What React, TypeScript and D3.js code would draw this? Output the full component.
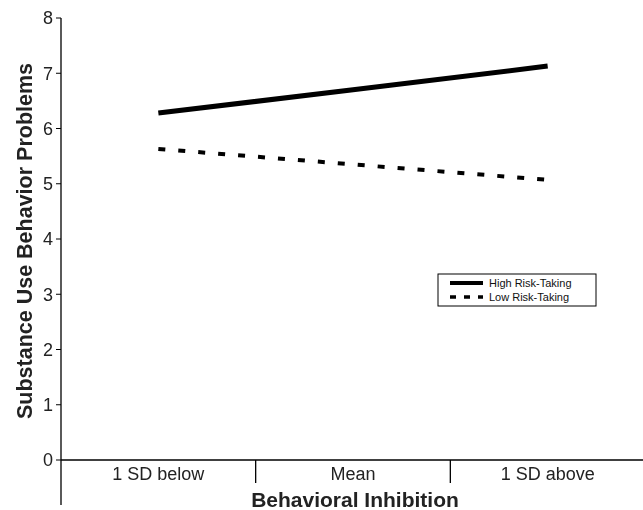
import { useEffect, useRef } from "react";
import * as d3 from "d3";

const categories = ["1 SD below", "Mean", "1 SD above"];
const highRisk = [6.28, 6.7, 7.13];
const lowRisk = [5.63, 5.35, 5.07];
const yTicks = [0, 1, 2, 3, 4, 5, 6, 7, 8];
const seriesNames = ["High Risk-Taking", "Low Risk-Taking"];

const App = () => {
  const ref = useRef(null);

  useEffect(() => {
    const svg = d3.select(ref.current).attr("width", 643).attr("height", 510);
    svg.selectAll("*").remove();

    const font = "Arial, 'Liberation Sans', sans-serif";
    const x = d3.scaleBand().domain(categories).range([61, 645]);
    const y = d3.scaleLinear().domain([0, 8]).range([460, 18]);

    // y axis
    svg
      .append("line")
      .attr("x1", 61)
      .attr("x2", 61)
      .attr("y1", y(8))
      .attr("y2", 505)
      .attr("stroke", "#000")
      .attr("stroke-width", 1.3);
    yTicks.forEach((t) => {
      svg
        .append("line")
        .attr("x1", 56)
        .attr("x2", 61)
        .attr("y1", y(t))
        .attr("y2", y(t))
        .attr("stroke", "#000");
      svg
        .append("text")
        .attr("x", 53)
        .attr("y", y(t))
        .attr("dy", "0.35em")
        .attr("text-anchor", "end")
        .style("font-family", font)
        .style("font-size", "18px")
        .attr("fill", "#222")
        .text(t);
    });

    // x axis
    svg
      .append("line")
      .attr("x1", 61)
      .attr("x2", 645)
      .attr("y1", y(0))
      .attr("y2", y(0))
      .attr("stroke", "#000")
      .attr("stroke-width", 1.3);
    categories.slice(1).forEach((c) => {
      svg
        .append("line")
        .attr("x1", x(c))
        .attr("x2", x(c))
        .attr("y1", y(0))
        .attr("y2", 483)
        .attr("stroke", "#000")
        .attr("stroke-width", 1.3);
    });
    categories.forEach((c) => {
      svg
        .append("text")
        .attr("x", x(c) + x.bandwidth() / 2)
        .attr("y", 480)
        .attr("text-anchor", "middle")
        .style("font-family", font)
        .style("font-size", "18px")
        .attr("fill", "#222")
        .text(c);
    });

    // titles
    svg
      .append("text")
      .attr("x", 355)
      .attr("y", 507)
      .attr("text-anchor", "middle")
      .style("font-family", font)
      .style("font-size", "21px")
      .style("font-weight", "bold")
      .attr("fill", "#222")
      .text("Behavioral Inhibition");
    svg
      .append("text")
      .attr("transform", "translate(32, 241) rotate(-90)")
      .attr("text-anchor", "middle")
      .style("font-family", font)
      .style("font-size", "21.5px")
      .style("font-weight", "bold")
      .attr("fill", "#222")
      .text("Substance Use Behavior Problems");

    // lines
    const cx = (i) => x(categories[i]) + x.bandwidth() / 2;
    const line = d3
      .line()
      .x((d, i) => cx(i))
      .y((d) => y(d));

    svg
      .append("path")
      .attr("d", line(highRisk))
      .attr("fill", "none")
      .attr("stroke", "#000")
      .attr("stroke-width", 5);
    svg
      .append("path")
      .attr("d", line(lowRisk))
      .attr("fill", "none")
      .attr("stroke", "#000")
      .attr("stroke-width", 4)
      .attr("stroke-dasharray", "7,13");

    // legend
    const legend = svg.append("g").attr("transform", "translate(438, 274)");
    legend
      .append("rect")
      .attr("width", 158)
      .attr("height", 32)
      .attr("fill", "#fff")
      .attr("stroke", "#000")
      .attr("stroke-width", 1);
    seriesNames.forEach((name, i) => {
      legend
        .append("line")
        .attr("x1", 12)
        .attr("x2", 45)
        .attr("y1", 9 + i * 14)
        .attr("y2", 9 + i * 14)
        .attr("stroke", "#000")
        .attr("stroke-width", i === 0 ? 4 : 3.5)
        .attr("stroke-dasharray", i === 0 ? null : "6,8");
      legend
        .append("text")
        .attr("x", 51)
        .attr("y", 9 + i * 14)
        .attr("dy", "0.35em")
        .style("font-family", font)
        .style("font-size", "11px")
        .attr("fill", "#111")
        .text(name);
    });
  }, []);

  return (
    <div>
      <svg
        ref={ref}
        style={{ position: "fixed", top: 0, left: 0, display: "block" }}
      ></svg>
    </div>
  );
};

export default App;
